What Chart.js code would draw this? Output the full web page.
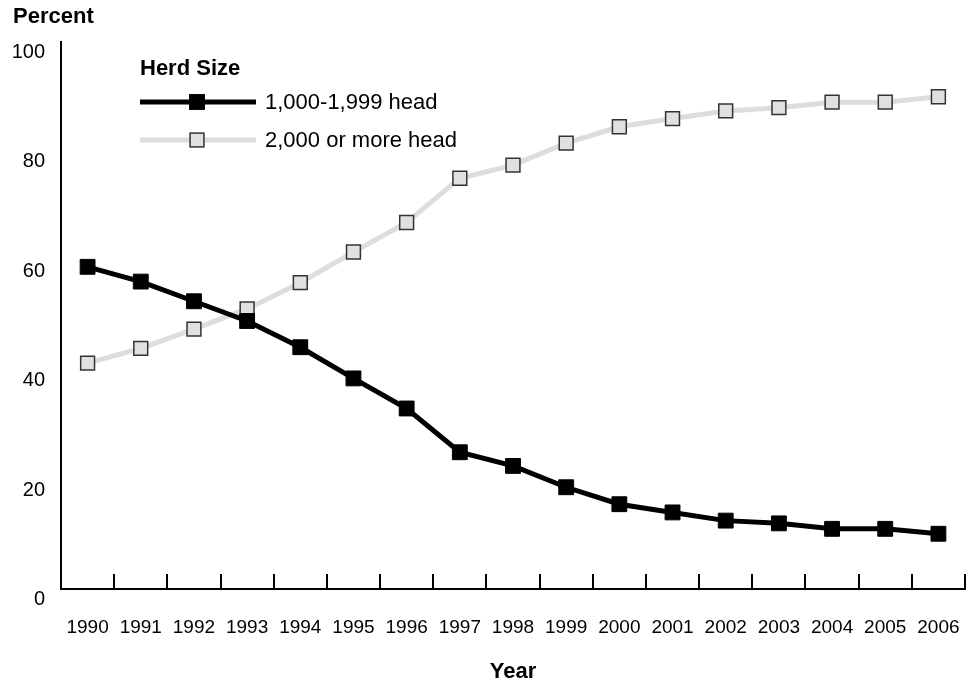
<!DOCTYPE html>
<html>
<head>
<meta charset="utf-8">
<script src="https://cdn.jsdelivr.net/npm/chart.js@4/dist/chart.umd.min.js"></script>
<style>
  html, body { margin: 0; padding: 0; background: #fff; }
  #wrap { width: 978px; height: 686px; }
</style>
</head>
<body>
<div id="wrap"><canvas id="chart" width="978" height="686"></canvas></div>
<script>
const years = ['1990', '1991', '1992', '1993', '1994', '1995', '1996', '1997', '1998',
               '1999', '2000', '2001', '2002', '2003', '2004', '2005', '2006'];
const herd1000to1999 = [58.9, 56.2, 52.6, 49.0, 44.2, 38.5, 33.0, 25.0, 22.5,
                        18.6, 15.5, 14.0, 12.5, 12.0, 11.0, 11.0, 10.1];
const herd2000plus   = [41.3, 44.0, 47.5, 51.2, 56.0, 61.6, 67.0, 75.1, 77.5,
                        81.5, 84.5, 86.0, 87.4, 88.0, 89.0, 89.0, 90.0];
const seriesNames = ['1,000-1,999 head', '2,000 or more head'];
const legendTitle = 'Herd Size';
const yTitle = 'Percent';
const xTitle = 'Year';

const FONT = '"Liberation Sans", Arial, Helvetica, sans-serif';

// y tick labels, the "Percent" caption and the legend are painted here
const extraText = {
    id: 'extraText',
    afterDraw(chart) {
        const ctx = chart.ctx;
        const ys = chart.scales.y;
        ctx.save();
        ctx.fillStyle = '#000';

        ctx.font = `20px ${FONT}`;
        ctx.textAlign = 'right';
        ctx.textBaseline = 'alphabetic';
        ys.ticks.forEach(t => ctx.fillText(String(t.value), 45, ys.getPixelForValue(t.value) + 16));

        ctx.textAlign = 'left';
        ctx.font = `bold 22px ${FONT}`;
        ctx.fillText(yTitle, 13, 23);
        ctx.fillText(legendTitle, 140, 75);

        const rows = [102, 140];
        chart.data.datasets.forEach((ds, i) => {
            const ly = rows[i];
            ctx.strokeStyle = ds.borderColor;
            ctx.lineWidth = ds.borderWidth;
            ctx.beginPath();
            ctx.moveTo(140, ly);
            ctx.lineTo(256, ly);
            ctx.stroke();

            const s = ds.pointRadius * Math.SQRT1_2;
            ctx.fillStyle = ds.pointBackgroundColor;
            ctx.fillRect(197 - s, ly - s, 2 * s, 2 * s);
            ctx.strokeStyle = ds.pointBorderColor;
            ctx.lineWidth = ds.pointBorderWidth;
            ctx.strokeRect(197 - s, ly - s, 2 * s, 2 * s);

            ctx.fillStyle = '#000';
            ctx.font = `22px ${FONT}`;
            ctx.fillText(ds.label, 265, ly + 7);
        });
        ctx.restore();
    }
};

new Chart(document.getElementById('chart').getContext('2d'), {
    type: 'line',
    data: {
        labels: years,
        datasets: [
            {
                label: seriesNames[0],
                data: herd1000to1999,
                borderColor: '#000',
                borderWidth: 5,
                pointStyle: 'rect',
                pointRadius: 10.5,
                pointBackgroundColor: '#000',
                pointBorderColor: '#000',
                pointBorderWidth: 1,
                tension: 0,
            },
            {
                label: seriesNames[1],
                data: herd2000plus,
                borderColor: '#dddddd',
                borderWidth: 5,
                pointStyle: 'rect',
                pointRadius: 9.8,
                pointBackgroundColor: '#e0e0e0',
                pointBorderColor: '#333',
                pointBorderWidth: 1.5,
                tension: 0,
            },
        ],
    },
    options: {
        responsive: false,
        animation: false,
        layout: { padding: { top: 42, right: 13, bottom: 0, left: 0 } },
        plugins: {
            legend: { display: false },
            title: { display: false },
            tooltip: { enabled: false },
        },
        scales: {
            x: {
                offset: true,
                grid: {
                    offset: true,
                    drawOnChartArea: false,
                    color: '#000',
                    lineWidth: 2,
                    tickLength: -15,   // ticks point up into the plot
                },
                border: { display: true, color: '#000', width: 2 },
                ticks: {
                    color: '#000',
                    font: { family: FONT, size: 19 },
                    padding: 42,
                    maxRotation: 0,
                    autoSkip: false,
                },
                title: {
                    display: true,
                    text: xTitle,
                    color: '#000',
                    font: { family: FONT, size: 22, weight: 'bold' },
                    padding: { top: 0, bottom: 1 },
                },
                afterFit(scale) {
                    scale.height = 97;
                    // tick padding would otherwise also pad the axis sideways
                    scale.paddingLeft = 0;
                    scale.paddingRight = 0;
                },
            },
            y: {
                min: 0,
                max: 100,
                ticks: { stepSize: 20, display: false },
                grid: { display: false },
                border: { display: true, color: '#000', width: 2 },
                afterFit(scale) { scale.width = 61; },
            },
        },
    },
    plugins: [extraText],
});
</script>
</body>
</html>
